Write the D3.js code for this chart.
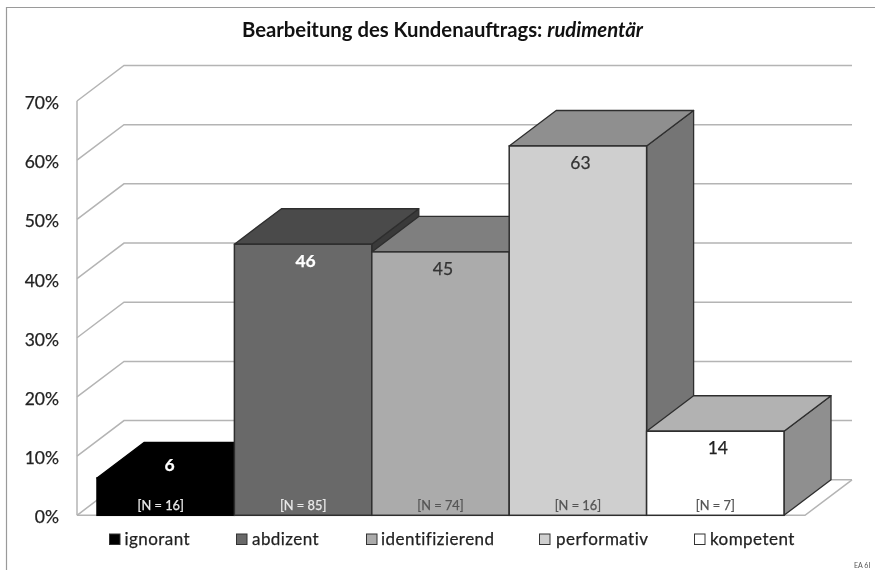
<!DOCTYPE html>
<html><head><meta charset="utf-8">
<script src="https://cdn.jsdelivr.net/npm/d3@7"></script>
<style>
html,body{margin:0;padding:0;background:#fff}
svg{display:block;filter:blur(0.45px)}
text{font-family:Lato,"Open Sans",sans-serif;stroke-width:0.25px}
</style></head><body>
<svg id="c" width="875" height="570"></svg>
<script>
const categories = ["ignorant","abdizent","identifizierend","performativ","kompetent"];
const barValues = [6.3,45.8,44.5,62.4,14.2];
const valueLabels = ["6","46","45","63","14"];
const sampleLabels = ["[N = 16]","[N = 85]","[N = 74]","[N = 16]","[N = 7]"];
const frontColors = ["#000000","#696969","#ababab","#cfcfcf","#ffffff"];
const topColors = ["#000000","#4a4a4a","#7f7f7f","#8f8f8f","#b2b2b2"];
const sideColors = ["#000000","#3a3a3a","#5f5f5f","#757575","#8f8f8f"];
const valueColors = ["#ffffff","#ffffff","#333333","#333333","#222222"];
const sampleColors = ["#e8e8e8","#e8e8e8","#555555","#555555","#555555"];
const yTicks = [0,10,20,30,40,50,60,70];
const legendX = [109,236,366,539,694];
const legendTextX = [124.5,252,381,556,710];

const svg = d3.select("#c");
const y = d3.scaleLinear().domain([0,70]).range([515.3,101]);
const x = d3.scaleBand().domain(categories).range([97,784]).padding(0);
const dx = 47, dy = -35.5, wallRight = 852, axisX = 77;
const grid = "#b4b4b4";

// frame
svg.append("path").attr("d","M6.5,570V7.5H875").attr("fill","none").attr("stroke","#9a9a9a").attr("stroke-width",1.2);

// walls
const g = svg.append("g").attr("fill","none").attr("stroke",grid).attr("stroke-width",1.5);
yTicks.forEach(t=>{
  const p = d3.path();
  p.moveTo(axisX,y(t)); p.lineTo(axisX+dx,y(t)+dy); p.lineTo(wallRight,y(t)+dy);
  g.append("path").attr("d",p.toString());
});
g.append("line").attr("x1",axisX).attr("x2",axisX).attr("y1",y(70)).attr("y2",y(0));
const floor = d3.path();
floor.moveTo(axisX,y(0)); floor.lineTo(wallRight-dx,y(0)); floor.lineTo(wallRight,y(0)+dy);
g.append("path").attr("d",floor.toString());

// y axis
const axis = d3.axisLeft(y).tickValues(yTicks).tickFormat(d=>d+"%").tickSize(0).tickPadding(0);
const ag = svg.append("g").attr("transform","translate(59,2)").call(axis);
ag.select(".domain").remove();
ag.selectAll("text").attr("font-size",17.5).attr("fill","#222").attr("stroke","#222").attr("font-family","Lato,sans-serif");

// bars
const poly = pts => pts.map(p=>p.join(",")).join(" ");
const bars = svg.append("g");
categories.forEach((c,i)=>{
  const l = x(c), r = l + x.bandwidth(), t = y(barValues[i]), b = y(0);
  const st = i===0 ? "#000" : "#2e2e2e";
  bars.append("polygon").attr("points",poly([[r,b],[r+dx,b+dy],[r+dx,t+dy],[r,t]])).attr("fill",sideColors[i]).attr("stroke",st).attr("stroke-width",1.3).attr("stroke-linejoin","round");
  bars.append("polygon").attr("points",poly([[l,t],[l+dx,t+dy],[r+dx,t+dy],[r,t]])).attr("fill",topColors[i]).attr("stroke",st).attr("stroke-width",1.3).attr("stroke-linejoin","round");
  bars.append("rect").attr("x",l).attr("y",t).attr("width",x.bandwidth()).attr("height",b-t).attr("fill",frontColors[i]).attr("stroke",st).attr("stroke-width",1.5);
});

// labels
const labels = svg.append("g");
categories.forEach((c,i)=>{
  const cx = x(c)+x.bandwidth()/2;
  labels.append("text").attr("x",cx + (i===0?4:2.5)).attr("y",y(barValues[i])+ (i===0?-7:23))
    .attr("text-anchor","middle").attr("font-size",17.5).attr("font-weight",i<2?700:400).attr("fill",valueColors[i]).attr("stroke",valueColors[i]).text(valueLabels[i]);
  labels.append("text").attr("x",cx - (i===0?5:0)).attr("y",510).attr("text-anchor","middle").attr("font-size",12.8).attr("fill",sampleColors[i]).attr("stroke",sampleColors[i]).text(sampleLabels[i]);
});

// legend
const leg = svg.append("g");
categories.forEach((c,i)=>{
  leg.append("rect").attr("x",legendX[i]+.5).attr("y",534).attr("width",10.5).attr("height",10.5).attr("fill",frontColors[i]).attr("stroke","#333").attr("stroke-width",1);
  leg.append("text").attr("x",legendTextX[i]).attr("y",545).attr("font-size",17).attr("letter-spacing",0.45).attr("fill","#222").attr("stroke","#222").text(c);
});

// title
const title = svg.append("text").attr("x",442.5).attr("y",37).attr("text-anchor","middle").attr("font-size",20.3).attr("font-weight",700).attr("fill","#111");
title.append("tspan").text("Bearbeitung des Kundenauftrags: ");
title.append("tspan").attr("font-style","italic").text("rudimentär");

svg.append("text").attr("x",854).attr("y",568).attr("font-size",7).attr("fill","#555").text("EA 6I");
</script></body></html>
